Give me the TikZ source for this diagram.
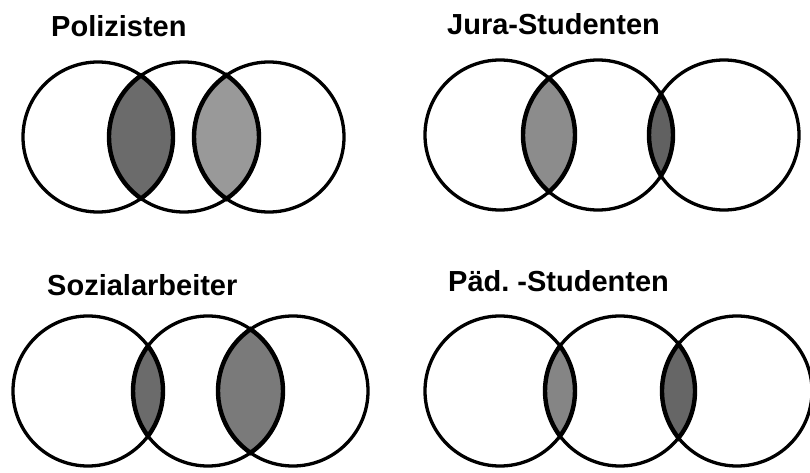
\documentclass[tikz,border=0pt]{standalone}
\usepackage{fontspec}
\setmainfont{Liberation Sans}
\usetikzlibrary{calc}

\def\rad{75}
% shaded overlap of two neighbouring circles: x1, x2, y, fill
\newcommand{\lens}[4]{%
  \pgfmathsetmacro\lensang{acos((#2-#1)/(2*\rad))}
  \filldraw[lensline, fill=#4] ($(#1,#3)+(\lensang:\rad pt)$)
    arc[start angle=\lensang, end angle=-\lensang, radius=\rad pt]
    arc[start angle=180+\lensang, end angle=180-\lensang, radius=\rad pt] -- cycle;
}

\begin{document}
\begin{tikzpicture}[x=1pt, y=1pt,
  ring/.style={line width=3.3pt},
  lensline/.style={line width=4.4pt},
  titel/.style={font=\bfseries\fontsize{29}{32}\selectfont, anchor=base west, inner sep=0pt}]
\useasboundingbox (0,0) rectangle (810,472);

% Polizisten
\node[titel] (tpol) at (51,435) {Polizisten};
\foreach \cx in {98,184,269}
  \draw[ring] (\cx,335) circle[radius=\rad pt];
\lens{98}{184}{335}{black!58}
\lens{184}{269}{335}{black!40}

% Jura-Studenten
\node[titel] (tjur) at (447,437) {Jura-Studenten};
\foreach \cx in {500,598,724}
  \draw[ring] (\cx,337) circle[radius=\rad pt];
\lens{500}{598}{337}{black!45}
\lens{598}{724}{337}{black!62}

% Sozialarbeiter
\node[titel] (tsoz) at (47,177) {Sozialarbeiter};
\foreach \cx in {88,208,293}
  \draw[ring] (\cx,81) circle[radius=\rad pt];
\lens{88}{208}{81}{black!58}
\lens{208}{293}{81}{black!52}

% Paed.-Studenten
\node[titel] (tpae) at (448,181) {Päd.\ -Studenten};
\foreach \cx in {500,620,737}
  \draw[ring] (\cx,81) circle[radius=\rad pt];
\lens{500}{620}{81}{black!48}
\lens{620}{737}{81}{black!60}
\end{tikzpicture}
\end{document}
